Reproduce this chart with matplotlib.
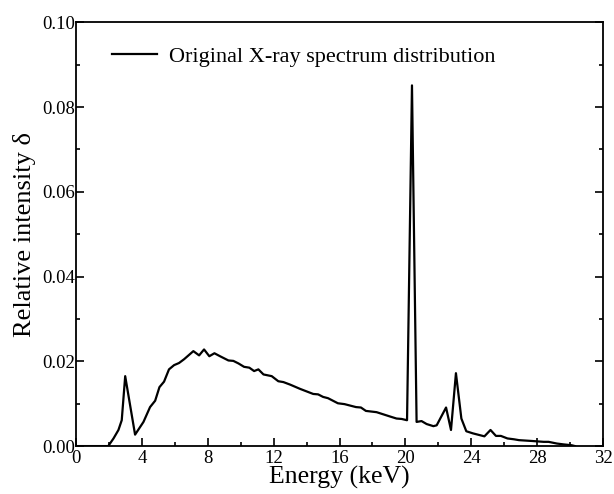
import numpy as np
import matplotlib
matplotlib.use("Agg")
import matplotlib.pyplot as plt
from matplotlib.ticker import MultipleLocator, FormatStrFormatter

plt.rcParams['font.family'] = ['Liberation Serif', 'DejaVu Serif']
plt.rcParams['mathtext.fontset'] = 'stix'

# spectrum (keV, relative intensity)
energy = [0.0, 1.0, 1.95, 2.27, 2.57, 2.77, 2.98, 3.58, 4.09, 4.49, 4.8, 5.06,
          5.34, 5.64, 5.95, 6.25, 6.56, 7.12, 7.47, 7.77, 8.09, 8.4, 8.74, 9.25,
          9.55, 9.86, 10.2, 10.52, 10.81, 11.07, 11.38, 11.88, 12.28, 12.59, 13.0,
          13.6, 14.0, 14.4, 14.7, 15.0, 15.3, 15.6, 15.9, 16.3, 16.7, 17.0, 17.3,
          17.6, 18.25, 18.65, 19.05, 19.46, 19.77, 20.1, 20.4, 20.68, 20.98, 21.29,
          21.7, 21.9, 22.47, 22.77, 23.07, 23.4, 23.7, 24.1, 24.5, 24.8, 25.17,
          25.5, 25.8, 26.2, 26.6, 26.9, 27.7, 28.4, 28.7, 29.2, 29.6, 30.1, 30.3]
intensity = [0.0, 0.0, 0.0, 0.0018, 0.0038, 0.0061, 0.0165, 0.0027, 0.0057, 0.0092,
             0.0107, 0.0139, 0.0152, 0.0181, 0.0191, 0.0196, 0.0205, 0.0224, 0.0214,
             0.0228, 0.0212, 0.0219, 0.0212, 0.0202, 0.0201, 0.0195, 0.0187, 0.0185,
             0.0177, 0.0181, 0.0169, 0.0165, 0.0153, 0.0151, 0.0145, 0.0135, 0.0129,
             0.0123, 0.0122, 0.0116, 0.0113, 0.0107, 0.0101, 0.0099, 0.0095, 0.0092,
             0.0091, 0.0083, 0.0080, 0.0075, 0.0070, 0.0065, 0.0064, 0.0061, 0.0851,
             0.0057, 0.0059, 0.0052, 0.0047, 0.0049, 0.0091, 0.0038, 0.0172, 0.0065,
             0.0035, 0.0030, 0.0026, 0.0023, 0.0038, 0.0024, 0.0024, 0.0018, 0.0016,
             0.0014, 0.0012, 0.0010, 0.0010, 0.0006, 0.0004, 0.0002, 0.0]

fig = plt.figure(figsize=(6.14, 4.94), dpi=100)
ax = fig.add_axes([0.124, 0.097, 0.858, 0.858])

ax.plot(energy, intensity, color='black', lw=1.6,
        label='Original X-ray spectrum distribution')

ax.set_xlim(0, 32)
ax.set_ylim(0, 0.10)
ax.xaxis.set_major_locator(MultipleLocator(4))
ax.xaxis.set_minor_locator(MultipleLocator(2))
ax.yaxis.set_major_locator(MultipleLocator(0.02))
ax.yaxis.set_minor_locator(MultipleLocator(0.01))
ax.yaxis.set_major_formatter(FormatStrFormatter('%.2f'))

ax.tick_params(which='both', direction='in', right=True, top=False,
               labelsize=13.5, width=1.2)
ax.tick_params(axis='y', pad=1)
ax.tick_params(axis='x', pad=3)
ax.tick_params(which='major', length=6)
ax.tick_params(which='minor', length=3)
for s in ax.spines.values():
    s.set_linewidth(1.3)

ax.set_xlabel('Energy (keV)', fontsize=18.5, labelpad=-1)
ax.set_ylabel('Relative intensity δ', fontsize=19, labelpad=4)

ax.legend(loc='upper left', frameon=False, fontsize=16, handlelength=2.0,
          handletextpad=0.55, bbox_to_anchor=(0.031, 0.99))

fig.savefig('out.png', dpi=100)
